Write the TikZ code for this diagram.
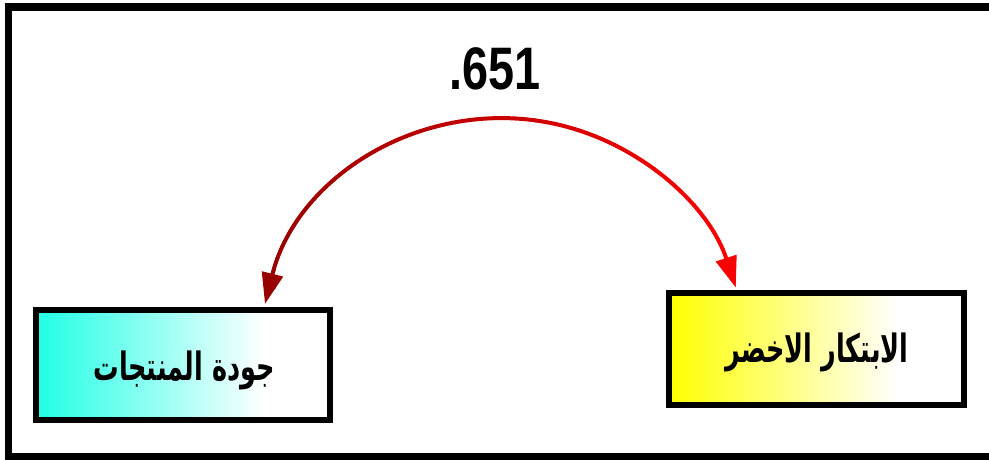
\documentclass[tikz,border=0pt]{standalone}
\usepackage{fontspec}
\setmainfont{Liberation Sans}
\newfontfamily\arabicfont[Script=Arabic]{DejaVu Sans}
\TeXXeTstate=1
\usetikzlibrary{arrows.meta,calc}

\definecolor{aquafill}{RGB}{32,255,228}
\definecolor{yellowfill}{RGB}{255,255,0}
\definecolor{darkline}{RGB}{150,0,0}
\definecolor{brightline}{RGB}{255,0,0}

% left-to-right fades; the box spans the middle 50bp of each shading
\pgfdeclarehorizontalshading{aquafade}{100bp}{color(0bp)=(aquafill); color(25bp)=(aquafill); color(64bp)=(white); color(75bp)=(white); color(100bp)=(white)}
\pgfdeclarehorizontalshading{yellowfade}{100bp}{color(0bp)=(yellowfill); color(25bp)=(yellowfill); color(64bp)=(white); color(75bp)=(white); color(100bp)=(white)}

\tikzset{
  varbox/.style={draw=black, line width=6pt, minimum width=294pt, minimum height=110pt,
    inner sep=0pt},
  varlabel/.style={inner sep=0pt, xscale=0.85, yscale=1.3,
    font=\arabicfont\bfseries\fontsize{30}{32}\selectfont},
  corrlink/.style={line width=4pt,
    {Triangle[length=31pt,width=21pt]}-{Triangle[length=31pt,width=21pt]}},
}

\begin{document}
\begin{tikzpicture}[x=1pt,y=1pt]
  \useasboundingbox (0,0) rectangle (989,460);

  % outer frame
  \draw[line width=7.5pt] (8.5,453) rectangle (994,3);

  % variables
  \node[varbox, shading=aquafade] (lbox) at (183,95) {};
  \node[varbox, shading=yellowfade, minimum width=295pt, minimum height=112pt] (rbox) at (816.5,111) {};
  \node[varlabel] (ltext) at (184,90) {\beginR جودة المنتجات\endR};
  \node[varlabel] (rtext) at (817,108) {\beginR الابتكار الاخضر\endR};

  % correlation coefficient
  \node[inner sep=0pt, font=\bfseries\fontsize{60}{60}\selectfont, xscale=0.78] (coef) at (495,391) {.651};

  % two-headed correlation arc from the left box to the right box,
  % colour running from dark red to red
  \coordinate (pl) at ($(lbox.north)+(82,3)$);
  \foreach \i in {0,...,24}{
    \pgfmathsetmacro{\xa}{255+\i*20}
    \pgfmathsetmacro{\xb}{\xa+20.6}
    \pgfmathsetmacro{\mix}{100-\i*100/24}
    \begin{scope}
      \clip (\xa,100) rectangle (\xb,360);
      \draw[corrlink, draw=darkline!\mix!brightline]
        (pl) arc[start angle=166, end angle=18, radius=245];
    \end{scope}
  }
\end{tikzpicture}
\end{document}
